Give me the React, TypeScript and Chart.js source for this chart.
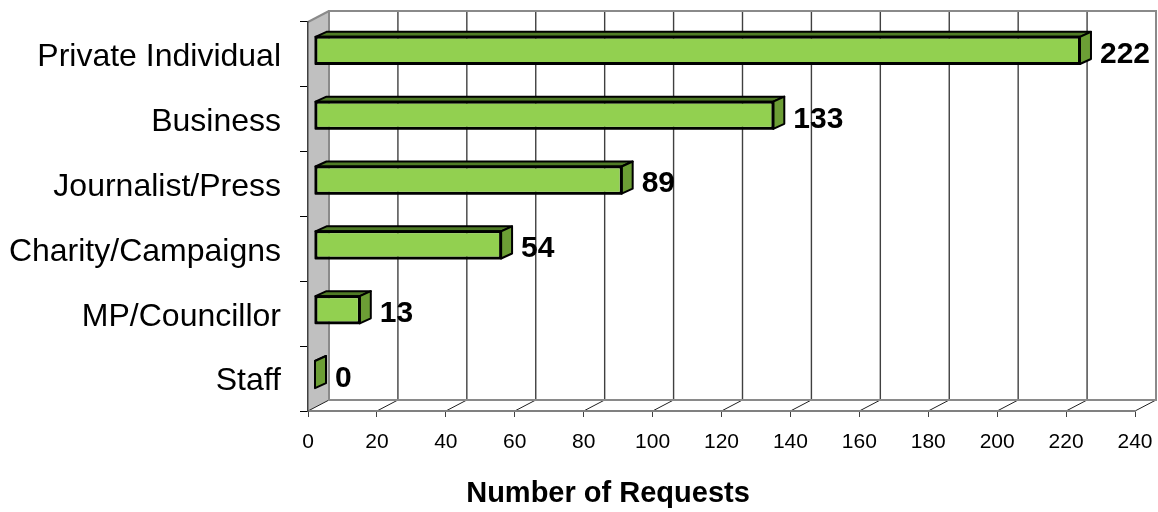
import { useEffect, useRef } from 'react';
import { Chart, registerables } from 'chart.js';

Chart.register(...registerables);

const categories = ['Private Individual', 'Business', 'Journalist/Press', 'Charity/Campaigns', 'MP/Councillor', 'Staff'];
const requests = [222, 133, 89, 54, 13, 0];
const axisMin = 0;
const axisMax = 240;
const axisStep = 20;
const axisTitle = 'Number of Requests';

const FONT = '"Liberation Sans", Arial, sans-serif';
const WALL = { x: 21, y: -11 };
const BAR_SHIFT = { x: 7, y: -4 };
const BAR_DEPTH = { x: 11, y: -5 };

const threeD = {
  id: 'threeD',
  beforeDraw(chart: any) {
    const { ctx, chartArea } = chart;
    const { left, right, top, bottom } = chartArea;
    const xs = chart.scales.x;
    ctx.save();
    // side wall
    ctx.fillStyle = '#c0c0c0';
    ctx.beginPath();
    ctx.moveTo(left, top);
    ctx.lineTo(left + WALL.x, top + WALL.y);
    ctx.lineTo(left + WALL.x, bottom + WALL.y);
    ctx.lineTo(left, bottom);
    ctx.closePath();
    ctx.fill();
    // back wall gridlines
    ctx.strokeStyle = '#404040';
    ctx.lineWidth = 1.4;
    xs.ticks.forEach((t: any, i: number) => {
      if (i === 0 || i === xs.ticks.length - 1) return;
      const px = xs.getPixelForValue(t.value) + WALL.x;
      ctx.beginPath();
      ctx.moveTo(px, top + WALL.y);
      ctx.lineTo(px, bottom + WALL.y);
      ctx.stroke();
    });
    // floor diagonals
    ctx.strokeStyle = '#202020';
    ctx.lineWidth = 1;
    xs.ticks.forEach((t: any) => {
      const px = xs.getPixelForValue(t.value);
      ctx.beginPath();
      ctx.moveTo(px, bottom);
      ctx.lineTo(px + WALL.x, bottom + WALL.y);
      ctx.stroke();
    });
    // back wall border & floor back edge
    ctx.strokeStyle = '#8a8a8a';
    ctx.lineWidth = 2;
    ctx.beginPath();
    ctx.moveTo(left + WALL.x, bottom + WALL.y);
    ctx.lineTo(left + WALL.x, top + WALL.y);
    ctx.lineTo(right + WALL.x, top + WALL.y);
    ctx.lineTo(right + WALL.x, bottom + WALL.y);
    ctx.closePath();
    ctx.stroke();
    // side wall top edge
    ctx.beginPath();
    ctx.moveTo(left, top);
    ctx.lineTo(left + WALL.x, top + WALL.y);
    ctx.stroke();
    ctx.restore();
  },
  beforeDatasetsDraw(chart: any) {
    chart.ctx.save();
    chart.ctx.translate(BAR_SHIFT.x, BAR_SHIFT.y);
  },
  afterDatasetsDraw(chart: any) {
    const { ctx } = chart;
    const meta = chart.getDatasetMeta(0);
    ctx.lineWidth = 2;
    ctx.lineJoin = 'round';
    ctx.strokeStyle = '#000';
    meta.data.forEach((el: any) => {
      const p = el.getProps(['x', 'y', 'base', 'height'], true);
      const l = Math.min(p.base, p.x);
      const r = Math.max(p.base, p.x);
      const t = p.y - p.height / 2;
      const b = p.y + p.height / 2;
      // top face
      ctx.fillStyle = '#4f7b26';
      ctx.beginPath();
      ctx.moveTo(l, t);
      ctx.lineTo(l + BAR_DEPTH.x, t + BAR_DEPTH.y);
      ctx.lineTo(r + BAR_DEPTH.x, t + BAR_DEPTH.y);
      ctx.lineTo(r, t);
      ctx.closePath();
      ctx.fill();
      ctx.stroke();
      // side face
      ctx.fillStyle = '#6c9e35';
      ctx.beginPath();
      ctx.moveTo(r, t);
      ctx.lineTo(r + BAR_DEPTH.x, t + BAR_DEPTH.y);
      ctx.lineTo(r + BAR_DEPTH.x, b + BAR_DEPTH.y);
      ctx.lineTo(r, b);
      ctx.closePath();
      ctx.fill();
      ctx.stroke();
      if (r - l > 1) {
        ctx.strokeRect(l, t, r - l, b - t);
      }
    });
    ctx.restore();
    // value labels
    ctx.save();
    ctx.font = `bold 30px ${FONT}`;
    ctx.fillStyle = '#000';
    ctx.textAlign = 'left';
    ctx.textBaseline = 'middle';
    meta.data.forEach((el: any, i: number) => {
      ctx.fillText(String(requests[i]), el.x + 27, el.y);
    });
    ctx.restore();
  },
  afterDraw(chart: any) {
    const { ctx, chartArea } = chart;
    ctx.save();
    ctx.font = `bold 29px ${FONT}`;
    ctx.fillStyle = '#000';
    ctx.textAlign = 'center';
    ctx.textBaseline = 'middle';
    ctx.fillText(axisTitle, chartArea.left + 300, 494);
    ctx.restore();
  },
};

export default function App() {
  const ref = useRef<HTMLCanvasElement | null>(null);
  useEffect(() => {
    document.body.style.margin = '0';
    const canvas = ref.current;
    if (!canvas) return;
    const chart = new Chart(canvas, {
      type: 'bar',
      data: {
        labels: categories,
        datasets: [
          {
            data: requests,
            backgroundColor: '#92d050',
            borderColor: '#000',
            borderWidth: 2,
            borderSkipped: false,
            categoryPercentage: 1,
            barPercentage: 0.42,
            clip: false as any,
          },
        ],
      },
      options: {
        indexAxis: 'y',
        animation: false,
        responsive: false,
        layout: { padding: { top: 22, right: 23, left: 0, bottom: 0 } },
        plugins: { legend: { display: false }, tooltip: { enabled: false } },
        scales: {
          x: {
            type: 'linear',
            min: axisMin,
            max: axisMax,
            ticks: { stepSize: axisStep, font: { size: 21, family: FONT }, color: '#000', padding: 13 },
            grid: { drawOnChartArea: false, drawTicks: true, tickLength: 6, tickColor: '#404040' },
            border: { color: '#808080', width: 2 },
            afterFit: (s: any) => {
              s.height = 101;
              s.paddingLeft = 0;
              s.paddingRight = 0;
            },
          },
          y: {
            type: 'category',
            ticks: { font: { size: 32, family: FONT }, color: '#000', padding: 19, labelOffset: 3 },
            grid: { drawOnChartArea: false, tickLength: 8, tickColor: '#000', offset: true },
            border: { color: '#404040', width: 1.5 },
            afterFit: (s: any) => {
              s.width = 308;
              s.paddingTop = 0;
              s.paddingBottom = 0;
            },
          },
        },
      },
      plugins: [threeD],
    } as any);
    return () => chart.destroy();
  }, []);
  return (
    <div style={{ width: 1158, height: 512 }}>
      <canvas ref={ref} width={1158} height={512} style={{ display: 'block' }} />
    </div>
  );
}
